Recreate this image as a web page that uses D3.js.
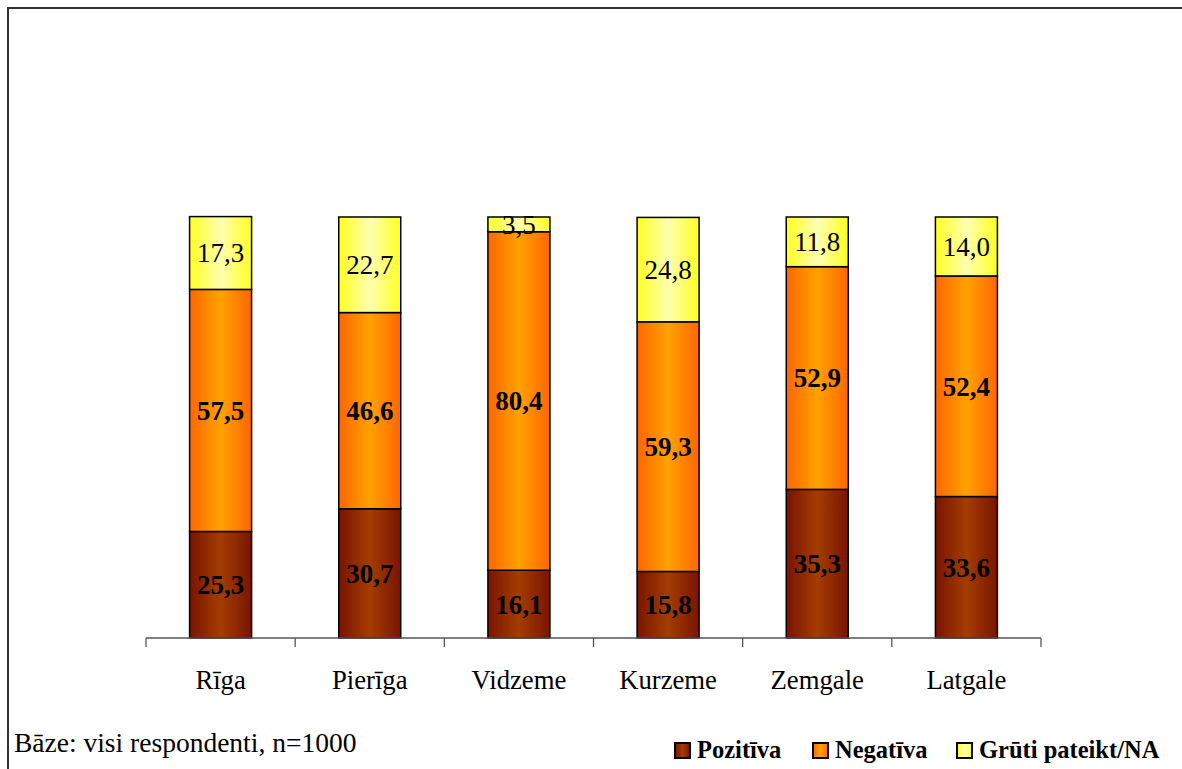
<!DOCTYPE html>
<html><head><meta charset="utf-8">
<script src="https://cdn.jsdelivr.net/npm/d3@7"></script>
<style>body{margin:0;background:#fff;} svg{display:block;}</style>
</head><body>
<svg id="c" width="1182" height="769"></svg>
<script>
const categories = ["Rīga","Pierīga","Vidzeme","Kurzeme","Zemgale","Latgale"];
const seriesNames = ["Pozitīva","Negatīva","Grūti pateikt/NA"];
const pozitiva = [25.3,30.7,16.1,15.8,35.3,33.6];
const negativa = [57.5,46.6,80.4,59.3,52.9,52.4];
const gruti = [17.3,22.7,3.5,24.8,11.8,14.0];
const baseNote = "Bāze: visi respondenti, n=1000";

const svg = d3.select("#c");
const font = "'Liberation Serif','Times New Roman',serif";
const defs = svg.append("defs");
const grads = [
  {id:"gPoz", edge:"#7a1400", mid:"#a33d00"},
  {id:"gNeg", edge:"#ff6600", mid:"#ffa200"},
  {id:"gGru", edge:"#ffff22", mid:"#ffffb0"}
];
grads.forEach(g=>{
  const lg = defs.append("linearGradient").attr("id",g.id).attr("x1","0").attr("x2","1").attr("y1","0").attr("y2","0");
  lg.append("stop").attr("offset","0%").attr("stop-color",g.edge);
  lg.append("stop").attr("offset","50%").attr("stop-color",g.mid);
  lg.append("stop").attr("offset","100%").attr("stop-color",g.edge);
});

// frame
svg.append("rect").attr("x",8).attr("y",8).attr("width",1300).attr("height",900)
  .attr("fill","none").attr("stroke","#333").attr("stroke-width",2);

const x = d3.scaleBand().domain(categories).range([146,1041]).paddingInner(0).paddingOuter(0);
const y = d3.scaleLinear().domain([0,100]).range([638,217]);
const barW = 62;

const data = categories.map((c,i)=>({cat:c, poz:pozitiva[i], neg:negativa[i], gru:gruti[i]}));
const stack = d3.stack().keys(["poz","neg","gru"])(data);
const fills = ["url(#gPoz)","url(#gNeg)","url(#gGru)"];
const weights = ["bold","bold","normal"];

stack.forEach((layer,li)=>{
  const g = svg.append("g");
  g.selectAll("rect").data(layer).join("rect")
    .attr("x",d=>x(d.data.cat)+x.bandwidth()/2-barW/2)
    .attr("y",d=>y(d[1]))
    .attr("width",barW)
    .attr("height",d=>y(d[0])-y(d[1]))
    .attr("fill",fills[li]).attr("stroke","#000").attr("stroke-width",1.5);
});
stack.forEach((layer,li)=>{
  svg.append("g").selectAll("text").data(layer).join("text")
    .attr("x",d=>x(d.data.cat)+x.bandwidth()/2)
    .attr("y",d=>(y(d[0])+y(d[1]))/2)
    .attr("dy","0.35em")
    .attr("text-anchor","middle")
    .attr("font-family",font).attr("font-size",27).attr("font-weight",weights[li])
    .attr("fill","#000")
    .text(d=>d3.format(".1f")(d[1]-d[0]).replace(".",","));
});

// axis
const ag = svg.append("g").attr("transform","translate(0,638)");
ag.append("line").attr("x1",x.range()[0]).attr("x2",x.range()[1]).attr("y1",0).attr("y2",0).attr("stroke","#555").attr("stroke-width",1.3);
const edges = categories.map(c=>x(c)).concat([x.range()[1]]);
ag.selectAll("line.t").data(edges).join("line").attr("class","t")
  .attr("x1",d=>d).attr("x2",d=>d).attr("y1",0).attr("y2",9).attr("stroke","#555").attr("stroke-width",1.3);
ag.selectAll("text").data(categories).join("text")
  .attr("x",d=>x(d)+x.bandwidth()/2).attr("y",51)
  .attr("text-anchor","middle").attr("font-family",font).attr("font-size",26.7).attr("fill","#000")
  .text(d=>d);

// base note
svg.append("text").attr("x",14).attr("y",752).attr("font-family",font).attr("font-size",27.5).attr("fill","#000").text(baseNote);

// legend
const legX = [675,813,957];
const lg = svg.append("g");
seriesNames.forEach((n,i)=>{
  lg.append("rect").attr("x",legX[i]).attr("y",743).attr("width",15).attr("height",15)
    .attr("fill",fills[i]).attr("stroke","#000").attr("stroke-width",2);
  lg.append("text").attr("x",legX[i]+22).attr("y",758).attr("font-family",font).attr("font-size",24.5)
    .attr("font-weight","bold").attr("fill","#000").text(n);
});
</script>
</body></html>
